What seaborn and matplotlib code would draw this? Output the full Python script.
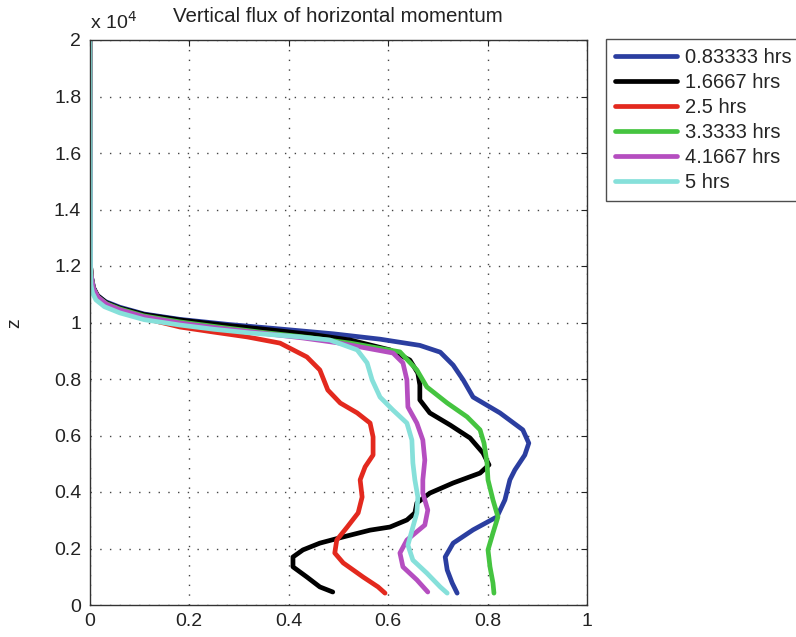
import numpy as np
import pandas as pd
import matplotlib
matplotlib.use("Agg")
import matplotlib.pyplot as plt
import seaborn as sns
from matplotlib.ticker import FuncFormatter

# ---- data ----
labels = ["0.83333 hrs", "1.6667 hrs", "2.5 hrs", "3.3333 hrs", "4.1667 hrs", "5 hrs"]
colors = ["#2b3ea0", "#000000", "#e3291e", "#45c440", "#b54ec0", "#86e0da"]

x_blue = [0.001, 0.002, 0.004, 0.008, 0.015, 0.032, 0.061, 0.11, 0.182, 0.28, 0.383, 0.49, 0.584, 0.664,
          0.705, 0.731, 0.751, 0.771, 0.825, 0.871, 0.883, 0.875, 0.855, 0.845, 0.835, 0.819, 0.771,
          0.731, 0.715, 0.719, 0.729, 0.739]
z_blue = [20000, 12000, 11600, 11250, 10970, 10740, 10540, 10300, 10110, 9930, 9770, 9600, 9410, 9190,
          8950, 8490, 7970, 7360, 6800, 6200, 5730, 5310, 4780, 4430, 3720, 3120, 2660,
          2190, 1700, 1240, 780, 420]

x_black = [0.001, 0.002, 0.004, 0.008, 0.017, 0.034, 0.061, 0.11, 0.182, 0.27, 0.363, 0.45, 0.524, 0.604,
           0.644, 0.660, 0.664, 0.664, 0.684, 0.725, 0.765, 0.791, 0.803, 0.785, 0.731, 0.684, 0.658,
           0.654, 0.638, 0.604, 0.564, 0.510, 0.463, 0.429, 0.409, 0.409, 0.437, 0.463, 0.489]
z_black = [20000, 12000, 11600, 11220, 10940, 10700, 10510, 10280, 10090, 9910, 9740, 9570, 9380, 9030,
           8670, 8210, 7790, 7260, 6800, 6370, 5910, 5380, 4960, 4670, 4320, 3960, 3610,
           3260, 3010, 2760, 2650, 2410, 2190, 1950, 1700, 1350, 990, 640, 460]

x_red = [0.001, 0.002, 0.004, 0.008, 0.017, 0.034, 0.061, 0.11, 0.182, 0.25, 0.317, 0.383, 0.437, 0.463,
         0.479, 0.504, 0.538, 0.564, 0.570, 0.570, 0.554, 0.544, 0.548, 0.540, 0.518, 0.497, 0.493,
         0.510, 0.550, 0.580, 0.594]
z_red = [20000, 12000, 11550, 11170, 10870, 10630, 10410, 10150, 9840, 9660, 9490, 9270, 8780, 8320,
         7610, 7150, 6800, 6440, 5950, 5310, 4890, 4430, 3820, 3260, 2760, 2300, 1840,
         1490, 990, 640, 420]

x_green = [0.001, 0.002, 0.004, 0.008, 0.017, 0.034, 0.061, 0.11, 0.182, 0.26, 0.343, 0.44, 0.524, 0.624,
           0.658, 0.678, 0.719, 0.759, 0.785, 0.793, 0.799, 0.801, 0.811, 0.821, 0.811, 0.801, 0.805,
           0.811, 0.813]
z_green = [20000, 12000, 11580, 11200, 10900, 10670, 10480, 10230, 10020, 9840, 9660, 9470, 9270, 8960,
           8320, 7720, 7150, 6660, 6200, 5730, 5030, 4430, 3720, 3120, 2550, 1950, 1350,
           780, 420]

x_magenta = [0.001, 0.002, 0.004, 0.008, 0.017, 0.034, 0.061, 0.11, 0.182, 0.26, 0.343, 0.43, 0.503, 0.610,
             0.630, 0.638, 0.640, 0.658, 0.670, 0.674, 0.670, 0.670, 0.680, 0.674, 0.638, 0.624, 0.630,
             0.658, 0.680]
z_magenta = [20000, 12000, 11580, 11200, 10900, 10650, 10450, 10200, 9980, 9800, 9630, 9450, 9270, 8920,
             8570, 7970, 7010, 6440, 5840, 5130, 4430, 3960, 3360, 2830, 2300, 1840, 1350,
             890, 460]

x_cyan = [0.001, 0.002, 0.003, 0.006, 0.013, 0.03, 0.061, 0.11, 0.182, 0.25, 0.323, 0.423, 0.483, 0.538,
          0.558, 0.568, 0.584, 0.610, 0.638, 0.648, 0.650, 0.654, 0.660, 0.658, 0.650, 0.640, 0.650,
          0.678, 0.705, 0.719]
z_cyan = [20000, 12000, 11330, 11050, 10800, 10560, 10340, 10100, 9910, 9760, 9630, 9490, 9380, 9030,
          8570, 7970, 7360, 6900, 6440, 5840, 5030, 4430, 3820, 3260, 2760, 2120, 1590,
          1130, 640, 420]

x_ticks = [0, 0.2, 0.4, 0.6, 0.8, 1]
y_ticks = [0, 2000, 4000, 6000, 8000, 10000, 12000, 14000, 16000, 18000, 20000]

series_x = [x_blue, x_black, x_red, x_green, x_magenta, x_cyan]
series_z = [z_blue, z_black, z_red, z_green, z_magenta, z_cyan]

frames = []
for lab, xs, zs in zip(labels, series_x, series_z):
    frames.append(pd.DataFrame({"flux": xs, "z": zs, "time": lab}))
df = pd.concat(frames, ignore_index=True)

# ---- style ----
sns.set_style("white")
plt.rcParams["font.family"] = ["Liberation Sans", "DejaVu Sans"]
plt.rcParams["xtick.direction"] = "in"
plt.rcParams["ytick.direction"] = "in"

fig = plt.figure(figsize=(7.96, 6.37), dpi=100)
ax = fig.add_axes([89.5 / 796, 32 / 637, (587 - 89.5) / 796, (605 - 40) / 637])

sns.lineplot(data=df, x="flux", y="z", hue="time", hue_order=labels, palette=colors,
             sort=False, estimator=None, units="time", lw=3.4, ax=ax, legend=True)

ax.set_xlim(0, 1)
ax.set_ylim(0, 20000)
ax.set_xticks(x_ticks)
ax.set_yticks(y_ticks)
ax.xaxis.set_major_formatter(FuncFormatter(lambda v, p: f"{v:g}"))
ax.yaxis.set_major_formatter(FuncFormatter(lambda v, p: f"{v/1e4:g}"))
ax.tick_params(axis="both", which="both", direction="in", top=True, right=True,
               length=4, width=0.8, labelsize=14, colors="#222222", pad=6)
ax.grid(True, linestyle=(0, (1, 6)), color="#444444", linewidth=1.0)
for s in ax.spines.values():
    s.set_color("#333333")
    s.set_linewidth(1.0)

ax.set_xlabel("")
ax.set_ylabel("")
fig.text(15 / 796, 1 - 323 / 637, "z", rotation=90, fontsize=14, ha="center", va="center",
         color="#222222")
ax.set_title("Vertical flux of horizontal momentum", fontsize=14.8, pad=13, color="#222222")
ax.text(0.0, 1.012, r"x 10$^4$", transform=ax.transAxes, fontsize=14, ha="left", va="bottom",
        color="#222222")

leg = ax.legend(loc="upper left", bbox_to_anchor=(606 / 796, 1 - 39 / 637),
                bbox_transform=fig.transFigure, fontsize=14.5, frameon=True, fancybox=False,
                handlelength=3.1, handletextpad=0.35, labelspacing=0.3, borderpad=0.45,
                borderaxespad=0.0)
leg.get_frame().set_edgecolor("#222222")
leg.get_frame().set_linewidth(1.0)
for h in leg.get_lines():
    h.set_linewidth(3.4)

fig.savefig("out.png", dpi=100)
